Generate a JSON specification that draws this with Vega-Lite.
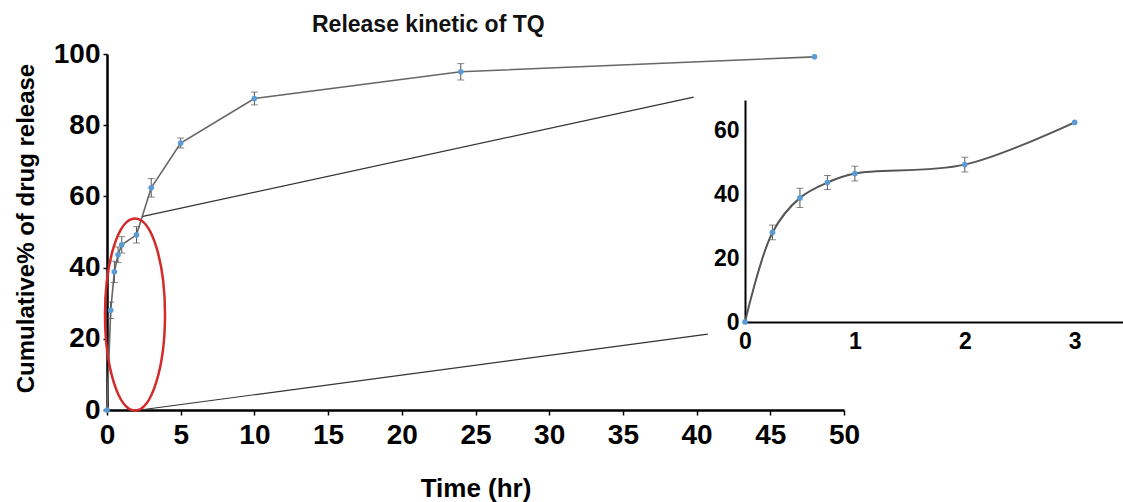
{
  "$schema": "https://vega.github.io/schema/vega-lite/v6.json",
  "width": 1016,
  "height": 356,
  "autosize": {"type": "none"},
  "padding": {"left": 107, "top": 54, "right": 0, "bottom": 92},
  "background": "white",
  "config": {"view": {"stroke": null}, "font": "Liberation Sans"},
  "title": {
    "text": "Release kinetic of TQ",
    "anchor": "start",
    "frame": "group",
    "dx": 205,
    "offset": -20,
    "baseline": "bottom",
    "font": "Liberation Sans",
    "fontSize": 23,
    "fontWeight": "bold",
    "color": "#111"
  },
  "datasets": {
    "release": [
      {"t": 0, "pct": 0, "err": 0},
      {"t": 0.25, "pct": 28, "err": 2.3},
      {"t": 0.5, "pct": 38.8, "err": 3},
      {"t": 0.75, "pct": 43.6, "err": 2.2},
      {"t": 1, "pct": 46.4, "err": 2.3},
      {"t": 2, "pct": 49.2, "err": 2.3},
      {"t": 3, "pct": 62.4, "err": 2.6},
      {"t": 5, "pct": 75, "err": 1.4},
      {"t": 10, "pct": 87.5, "err": 1.8},
      {"t": 24, "pct": 95, "err": 2.3},
      {"t": 48, "pct": 99.2, "err": 0}
    ],
    "zoomLines": [
      {"x1": 2.36, "y1": 54.3, "x2": 39.8, "y2": 87.9},
      {"x1": 2.24, "y1": 0, "x2": 40.76, "y2": 21.3}
    ],
    "highlight": [
      {"t": 1.9, "pct": 26.8}
    ]
  },
  "layer": [
    {
      "layer": [
        {
          "data": {"name": "zoomLines"},
          "mark": {"type": "rule", "color": "#333", "strokeWidth": 1.2},
          "encoding": {
            "x": {
              "field": "x1", "type": "quantitative",
              "title": "Time (hr)",
              "scale": {"domain": [0, 50], "range": [0, 737], "nice": false, "zero": false},
              "axis": {
                "title": "Time (hr)",
                "orient": "bottom",
                "values": [0, 5, 10, 15, 20, 25, 30, 35, 40, 45, 50],
                "grid": false,
                "labelFont": "Liberation Sans",
                "labelFontSize": 28,
                "labelFontWeight": "bold",
                "labelColor": "#000",
                "labelPadding": 6,
                "labelFlush": false,
                "labelOverlap": false,
                "tickSize": 5,
                "tickColor": "#000",
                "tickWidth": 1.5,
                "domainColor": "#000",
                "domainWidth": 2.5,
                "titleFont": "Liberation Sans",
                "titleFontSize": 26,
                "titleFontWeight": "bold",
                "titleColor": "#000",
                "titleY": 78,
                "titleBaseline": "middle"
              }
            },
            "y": {
              "field": "y1", "type": "quantitative",
              "title": "Cumulative% of drug release",
              "scale": {"domain": [0, 100], "range": [356, 0], "nice": false, "zero": false},
              "axis": {
                "title": "Cumulative% of drug release",
                "orient": "left",
                "values": [0, 10, 20, 30, 40, 50, 60, 70, 80, 90, 100],
                "labelExpr": "datum.value % 20 === 0 ? datum.label : ''",
                "grid": false,
                "labelFont": "Liberation Sans",
                "labelFontSize": 28,
                "labelFontWeight": "bold",
                "labelColor": "#000",
                "labelPadding": 3,
                "labelFlush": false,
                "labelOverlap": false,
                "tickSize": 4,
                "tickColor": "#000",
                "tickWidth": 1.5,
                "domainColor": "#000",
                "domainWidth": 2.5,
                "titleFont": "Liberation Sans",
                "titleFontSize": 24,
                "titleFontWeight": "bold",
                "titleColor": "#000",
                "titleAngle": -90,
                "titleX": -81,
                "titleY": 174,
                "titleAlign": "center",
                "titleBaseline": "middle"
              }
            },
            "x2": {"field": "x2"},
            "y2": {"field": "y2"}
          }
        },
        {
          "data": {"name": "release"},
          "mark": {"type": "line", "color": "#666", "strokeWidth": 1.6},
          "encoding": {
            "x": {"field": "t", "type": "quantitative", "title": "Time (hr)"},
            "y": {"field": "pct", "type": "quantitative", "title": "Cumulative% of drug release"}
          }
        },
        {
          "data": {"name": "release"},
          "transform": [{"filter": "datum.err > 0"}],
          "mark": {"type": "errorbar", "ticks": {"size": 7, "color": "#555", "thickness": 1}, "rule": {"color": "#555", "strokeWidth": 1}},
          "encoding": {
            "x": {"field": "t", "type": "quantitative", "title": "Time (hr)"},
            "y": {"field": "pct", "type": "quantitative", "title": "Cumulative% of drug release"},
            "yError": {"field": "err"}
          }
        },
        {
          "data": {"name": "release"},
          "mark": {"type": "point", "filled": true, "shape": "circle", "size": 32, "color": "#5b9bd5", "opacity": 1},
          "encoding": {
            "x": {"field": "t", "type": "quantitative", "title": "Time (hr)"},
            "y": {"field": "pct", "type": "quantitative", "title": "Cumulative% of drug release"}
          }
        },
        {
          "data": {"name": "highlight"},
          "mark": {
            "type": "point",
            "filled": false,
            "shape": "M -0.3125 0 A 0.3125 1 0 1 0 0.3125 0 A 0.3125 1 0 1 0 -0.3125 0 Z",
            "size": 36864,
            "stroke": "#d42a2a",
            "strokeWidth": 2.5,
            "opacity": 1
          },
          "encoding": {
            "x": {"field": "t", "type": "quantitative", "title": "Time (hr)"},
            "y": {"field": "pct", "type": "quantitative", "title": "Cumulative% of drug release"}
          }
        }
      ]
    },
    {
      "data": {"name": "release"},
      "transform": [{"filter": "datum.t <= 3"}],
      "layer": [
        {
          "mark": {"type": "line", "interpolate": "catmull-rom", "color": "#555", "strokeWidth": 2},
          "encoding": {
            "x": {
              "field": "t", "type": "quantitative",
              "scale": {"domain": [0, 3.44], "range": [638, 1016], "nice": false, "zero": false},
              "axis": {
                "title": null,
                "orient": "bottom",
                "offset": -88,
                "values": [0, 1, 2, 3],
                "format": "d",
                "grid": false,
                "ticks": false,
                "labelFont": "Liberation Sans",
                "labelFontSize": 23,
                "labelFontWeight": "bold",
                "labelColor": "#000",
                "labelPadding": 8,
                "labelFlush": false,
                "domainColor": "#000",
                "domainWidth": 2
              }
            },
            "y": {
              "field": "pct", "type": "quantitative",
              "scale": {"domain": [0, 69.4], "range": [268, 46], "nice": false, "zero": false},
              "axis": {
                "title": null,
                "orient": "left",
                "offset": -638,
                "values": [0, 20, 40, 60],
                "format": "d",
                "grid": false,
                "ticks": false,
                "labelFont": "Liberation Sans",
                "labelFontSize": 23,
                "labelFontWeight": "bold",
                "labelColor": "#000",
                "labelPadding": 6,
                "labelFlush": false,
                "domainColor": "#000",
                "domainWidth": 2
              }
            }
          }
        },
        {
          "transform": [{"filter": "datum.err > 0 && datum.t <= 2"}],
          "mark": {"type": "errorbar", "ticks": {"size": 7, "color": "#555", "thickness": 1}, "rule": {"color": "#555", "strokeWidth": 1}},
          "encoding": {
            "x": {"field": "t", "type": "quantitative"},
            "y": {"field": "pct", "type": "quantitative"},
            "yError": {"field": "err"}
          }
        },
        {
          "mark": {"type": "point", "filled": true, "shape": "circle", "size": 32, "color": "#5b9bd5", "opacity": 1},
          "encoding": {
            "x": {"field": "t", "type": "quantitative"},
            "y": {"field": "pct", "type": "quantitative"}
          }
        }
      ]
    }
  ],
  "resolve": {
    "scale": {"x": "independent", "y": "independent"},
    "axis": {"x": "independent", "y": "independent"}
  }
}
